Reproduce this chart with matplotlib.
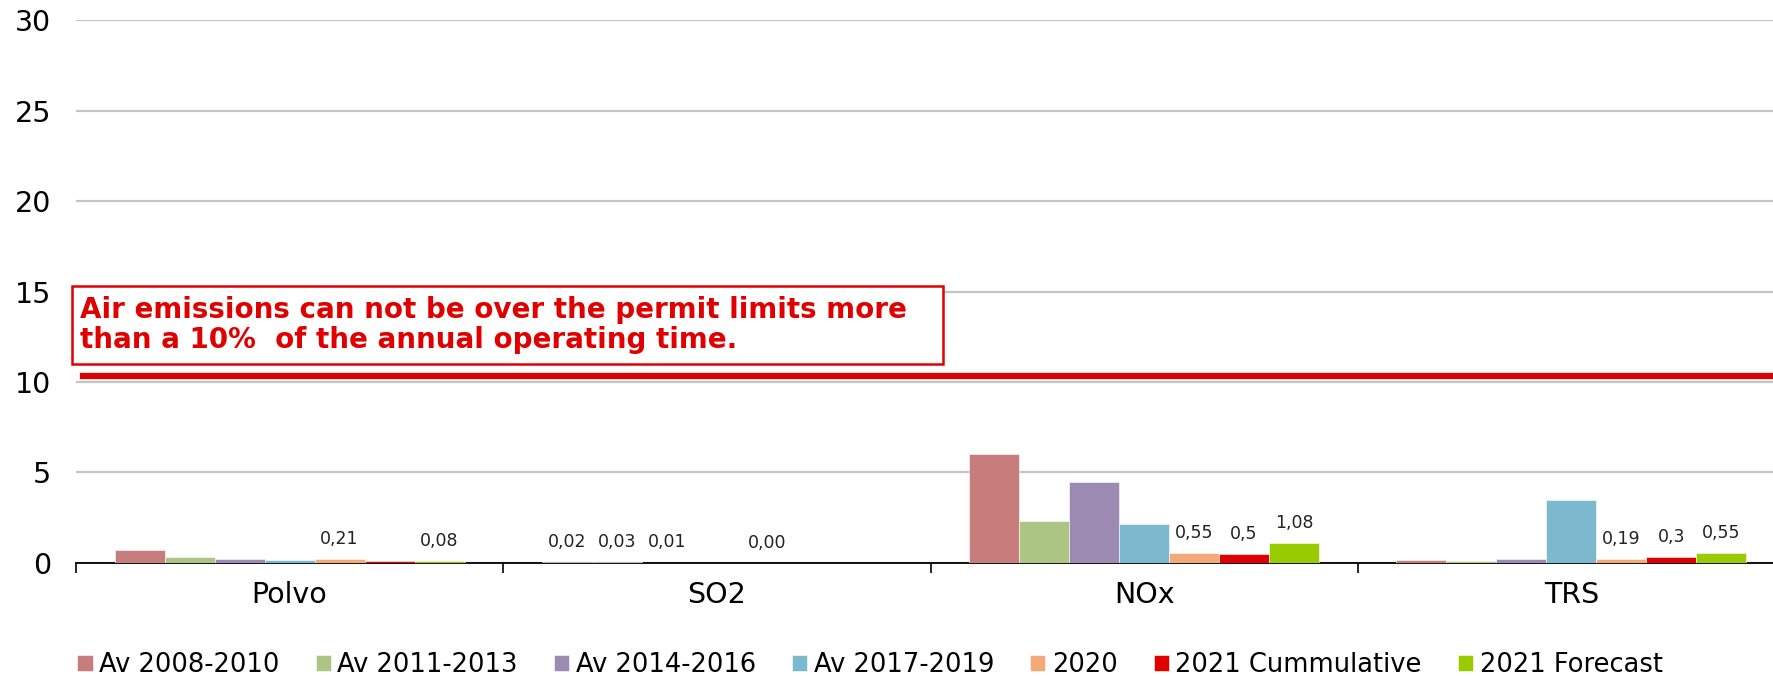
"""Air emissions vs permit limits - grouped bars"""
import numpy as np
import matplotlib
matplotlib.use('Agg')
import matplotlib.pyplot as plt
from matplotlib.patches import Rectangle

# ============== DATA ==============
CATEGORIES = ['Polvo', 'SO2', 'NOx', 'TRS']
SERIES = ['Av 2008-2010', 'Av 2011-2013', 'Av 2014-2016', 'Av 2017-2019',
          '2020', '2021 Cummulative', '2021 Forecast']
av_2008_2010 = [0.70, 0.02, 6.01, 0.15]
av_2011_2013 = [0.31, 0.03, 2.30, 0.07]
av_2014_2016 = [0.20, 0.01, 4.48, 0.20]
av_2017_2019 = [0.15, 0.00, 2.14, 3.47]
y2020 = [0.21, 0.00, 0.55, 0.19]
y2021_cum = [0.07, 0.00, 0.50, 0.30]
y2021_fc = [0.08, 0.00, 1.08, 0.55]
VALUES = [av_2008_2010, av_2011_2013, av_2014_2016, av_2017_2019, y2020, y2021_cum, y2021_fc]

# labels shown on the chart (None = not labelled)
LABELS = [
    [None, '0,02', None, None],
    [None, '0,03', None, None],
    [None, '0,01', None, None],
    [None, None, None, None],
    ['0,21', '0,00', '0,55', '0,19'],
    [None, None, '0,5', '0,3'],
    ['0,08', None, '1,08', '0,55'],
]
COLORS = ['#C87D7D', '#ADC584', '#9C8AB3', '#7DB9CE', '#F5A978', '#E00000', '#99CC00']
LIMIT = 10.3
NOTE = 'Air emissions can not be over the permit limits more\nthan a 10%  of the annual operating time.'
# ==================================

plt.rcParams['font.family'] = ['DejaVu Sans']

fig = plt.figure(figsize=(17.73, 6.76), dpi=100)
ax = fig.add_axes([76 / 1773, 113.3 / 676, (1785 - 76) / 1773, 542.4 / 676])

x = np.arange(len(CATEGORIES))
n = len(SERIES)
w = 0.117
for i, (name, vals, col) in enumerate(zip(SERIES, VALUES, COLORS)):
    pos = x + (i - (n - 1) / 2) * w
    ax.bar(pos, vals, width=w, color=col, label=name, edgecolor='white', linewidth=0.4, zorder=3)
    for px, v, lab in zip(pos, vals, LABELS[i]):
        if lab is not None:
            ax.annotate(lab, (px, v), xytext=(0, 8), textcoords='offset points',
                        ha='center', va='bottom', fontsize=12.5, color='#222222', zorder=5)

ax.set_ylim(0, 30)
ax.set_xlim(-0.5, 3.5)
ax.set_yticks([0, 5, 10, 15, 20, 25, 30])
ax.yaxis.grid(True, color='#c4c4c4', lw=1.6, zorder=0)
ax.set_axisbelow(True)
ax.tick_params(axis='y', length=0, labelsize=20.5, pad=18)

ax.set_xticks(x)
ax.set_xticklabels(CATEGORIES)
ax.set_xticks([-0.5, 0.5, 1.5, 2.5], minor=True)
ax.tick_params(axis='x', which='major', length=0, labelsize=20.5, pad=13)
ax.tick_params(axis='x', which='minor', length=7, width=1.2, color='black')

for s in ['left', 'right', 'top']:
    ax.spines[s].set_visible(False)
ax.spines['bottom'].set_linewidth(1.3)

# permit limit line and note box
ax.axhline(LIMIT, xmin=0.004, xmax=1, color='#E00000', lw=4.5, zorder=4)
ax.add_patch(Rectangle((-0.51, 11.0), 2.04, 4.3, facecolor='white', edgecolor='#E00000',
                       lw=1.8, zorder=4, clip_on=False))
ax.text(-0.49, 13.15, NOTE, color='#E00000', fontsize=20, fontweight='bold',
        ha='left', va='center', linespacing=1.1, zorder=5)

fig.legend(loc='center', bbox_to_anchor=(870 / 1773, 1 - 665 / 676), ncol=7, frameon=False,
           fontsize=18.5, handlelength=0.6, handleheight=0.6, handletextpad=0.25,
           columnspacing=1.4)

fig.savefig('out.png', dpi=100)
